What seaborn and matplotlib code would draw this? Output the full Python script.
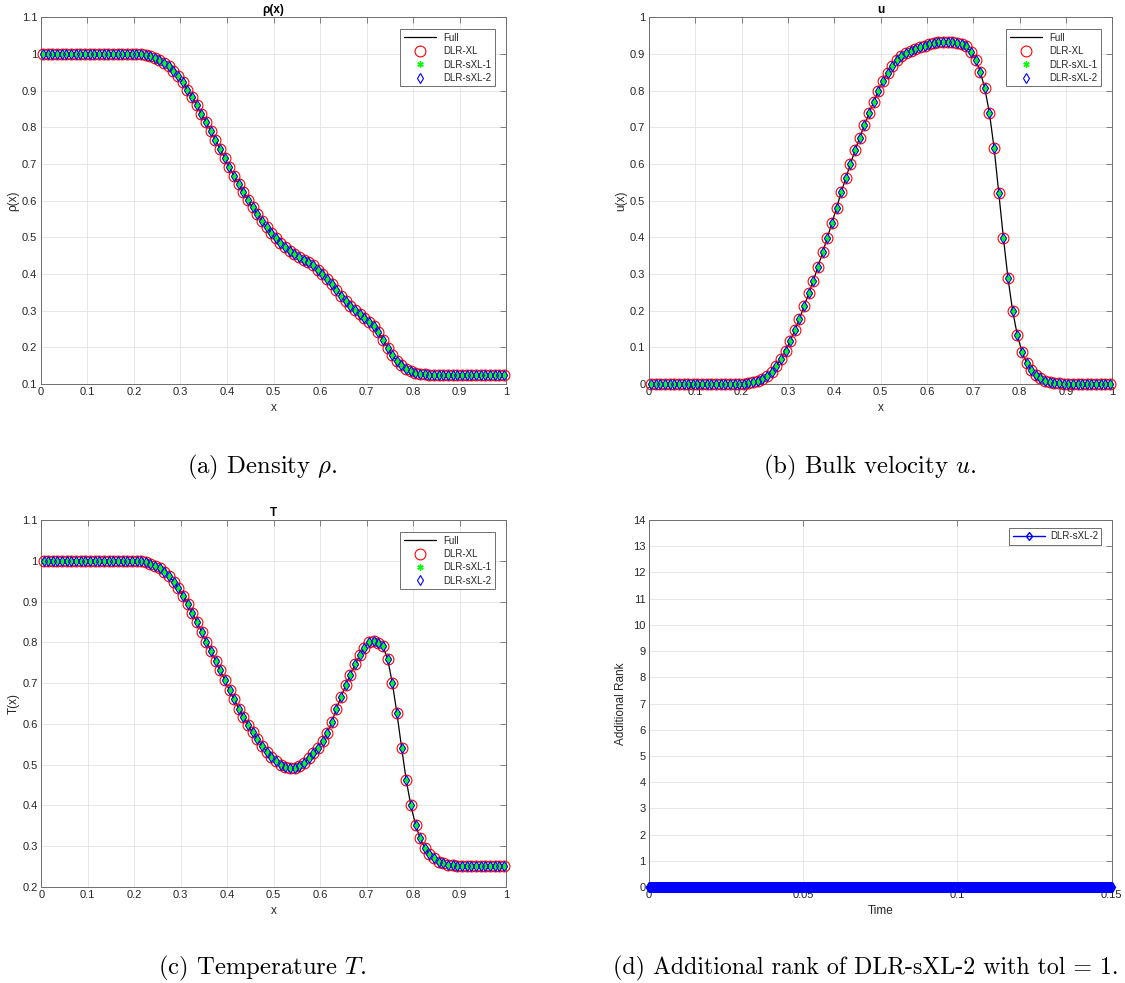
import numpy as np
import pandas as pd
import matplotlib
matplotlib.use("Agg")
import matplotlib.pyplot as plt
import seaborn as sns
from matplotlib.ticker import FuncFormatter, MultipleLocator

# ---------------- data ----------------
x_centers = np.linspace(0.005, 0.995, 100)

rho = [1.0] * 22 + [
    0.997, 0.994, 0.990, 0.984, 0.976, 0.966, 0.954, 0.939, 0.923, 0.903,
    0.883, 0.860, 0.837, 0.814, 0.789, 0.766, 0.742, 0.716, 0.692, 0.667,
    0.645, 0.623, 0.601, 0.582, 0.564, 0.545, 0.528, 0.512, 0.497, 0.484,
    0.473, 0.463, 0.454, 0.446, 0.439, 0.432, 0.424, 0.411, 0.399, 0.387,
    0.373, 0.356, 0.341, 0.325, 0.312, 0.301, 0.290, 0.281, 0.270, 0.258,
    0.243, 0.221, 0.199, 0.178, 0.163, 0.151, 0.141, 0.135, 0.130, 0.127,
    0.126] + [0.125] * 17

u_vel = [0.0] * 21 + [
    0.003, 0.005, 0.008, 0.014, 0.023, 0.034, 0.049, 0.067, 0.091, 0.117,
    0.146, 0.177, 0.212, 0.247, 0.282, 0.320, 0.359, 0.398, 0.439, 0.480,
    0.523, 0.561, 0.600, 0.637, 0.672, 0.705, 0.738, 0.769, 0.800, 0.826,
    0.848, 0.868, 0.883, 0.894, 0.903, 0.908, 0.914, 0.918, 0.923, 0.926,
    0.930, 0.933, 0.934, 0.934, 0.933, 0.930, 0.926, 0.921, 0.906, 0.884,
    0.852, 0.806, 0.738, 0.643, 0.522, 0.399, 0.288, 0.199, 0.134, 0.088,
    0.058, 0.038, 0.025, 0.015, 0.009, 0.005, 0.003, 0.002, 0.001] + [0.0] * 10

temp = [1.0] * 22 + [
    0.997, 0.993, 0.988, 0.982, 0.973, 0.962, 0.949, 0.933, 0.914, 0.893,
    0.872, 0.849, 0.826, 0.802, 0.778, 0.755, 0.731, 0.707, 0.682, 0.660,
    0.637, 0.618, 0.597, 0.579, 0.562, 0.547, 0.532, 0.520, 0.509, 0.500,
    0.494, 0.491, 0.492, 0.497, 0.505, 0.516, 0.528, 0.542, 0.558, 0.577,
    0.605, 0.637, 0.667, 0.696, 0.721, 0.746, 0.768, 0.786, 0.800, 0.804,
    0.799, 0.790, 0.759, 0.701, 0.626, 0.542, 0.462, 0.400, 0.353, 0.319,
    0.296, 0.281, 0.270, 0.262, 0.258, 0.255, 0.253] + [0.252] * 11

time_steps = np.linspace(0.0, 0.15, 1501)
add_rank = [0] * 1501

series_names = ["Full", "DLR-XL", "DLR-sXL-1", "DLR-sXL-2"]
captions = [r"(a) Density $\rho$.", r"(b) Bulk velocity $u$.",
            r"(c) Temperature $T$.", r"(d) Additional rank of DLR-sXL-2 with tol = 1."]

# ---------------- style ----------------
sns.set_theme(style="white")
plt.rcParams["font.family"] = ["Liberation Sans", "DejaVu Sans"]
plt.rcParams["mathtext.fontset"] = "cm"

W, H = 1125, 983
fig = plt.figure(figsize=(W / 100, H / 100), dpi=100)
fig.patch.set_facecolor("white")


def rect(l, r, t, b):
    return [l / W, 1 - b / H, (r - l) / W, (b - t) / H]


fmt = FuncFormatter(lambda v, _: f"{v:g}")
AXC = "#262626"


def style_axes(ax):
    ax.set_facecolor("white")
    ax.grid(True, color="#e3e3e3", lw=0.6)
    ax.set_axisbelow(True)
    for s in ax.spines.values():
        s.set_visible(True)
        s.set_color("#6e6e6e")
        s.set_linewidth(0.7)
    ax.tick_params(direction="in", top=True, right=True, length=4, width=0.6,
                   color="#6e6e6e", labelcolor=AXC, labelsize=8, pad=2.5)
    ax.xaxis.set_major_formatter(fmt)
    ax.yaxis.set_major_formatter(fmt)


def field_panel(ax, vals, title, ylabel, ylim):
    df = pd.DataFrame({"x": x_centers, "v": vals})
    sns.lineplot(data=df, x="x", y="v", ax=ax, color="black", lw=0.9,
                 label=series_names[0], zorder=2)
    sns.lineplot(data=df, x="x", y="v", ax=ax, color="red", marker="o",
                 linestyle="", mfc="none", mec="red", ms=7.8, mew=0.8,
                 label=series_names[1], zorder=3, clip_on=False)
    sns.lineplot(data=df, x="x", y="v", ax=ax, color="#00ff00", marker=(6, 2, 0),
                 linestyle="", mec="#00ff00", ms=4.5, mew=1.0,
                 label=series_names[2], zorder=4, clip_on=False)
    sns.lineplot(data=df, x="x", y="v", ax=ax, color="blue", marker="d",
                 linestyle="", mfc="none", mec="blue", ms=5.5, mew=0.8,
                 label=series_names[3], zorder=5, clip_on=False)
    ax.set_xlim(0, 1)
    ax.set_ylim(*ylim)
    ax.xaxis.set_major_locator(MultipleLocator(0.1))
    ax.yaxis.set_major_locator(MultipleLocator(0.1))
    style_axes(ax)
    ax.set_title(title, fontsize=8.5, fontweight="bold", color="black", pad=3)
    ax.set_xlabel("x", fontsize=8.5, color=AXC, labelpad=3)
    ax.set_ylabel(ylabel, fontsize=8.5, color=AXC, labelpad=2)
    h, l = ax.get_legend_handles_labels()
    leg = ax.legend(h, l, loc="upper right", bbox_to_anchor=(0.976, 0.967),
                    borderaxespad=0, fontsize=7, frameon=True, fancybox=False,
                    framealpha=1, edgecolor="#6e6e6e", handlelength=3.3,
                    labelspacing=0.35, borderpad=0.35, handletextpad=0.8)
    leg.get_frame().set_linewidth(0.7)


ax_a = fig.add_axes(rect(40.8, 506.2, 17.3, 384))
field_panel(ax_a, rho, "ρ(x)", "ρ(x)", (0.1, 1.1))

ax_b = fig.add_axes(rect(648.8, 1112.3, 17.3, 384))
field_panel(ax_b, u_vel, "u", "u(x)", (0, 1))

ax_c = fig.add_axes(rect(41.2, 506.2, 520, 887))
field_panel(ax_c, temp, "T", "T(x)", (0.2, 1.1))

ax_d = fig.add_axes(rect(649, 1111.7, 520, 887))
dfd = pd.DataFrame({"t": time_steps, "r": add_rank})
sns.lineplot(data=dfd, x="t", y="r", ax=ax_d, color="blue", lw=1.0, marker="d",
             mfc="none", mec="blue", ms=5.5, mew=1.0, label="DLR-sXL-2",
             clip_on=False, zorder=5)
ax_d.set_xlim(0, 0.15)
ax_d.set_ylim(0, 14)
ax_d.set_xticks([0, 0.05, 0.1, 0.15])
ax_d.yaxis.set_major_locator(MultipleLocator(1))
style_axes(ax_d)
ax_d.set_xlabel("Time", fontsize=8.5, color=AXC, labelpad=3)
ax_d.set_ylabel("Additional Rank", fontsize=8.5, color=AXC, labelpad=4)
hd, ld = ax_d.get_legend_handles_labels()
legd = ax_d.legend(hd, ld, loc="upper right", bbox_to_anchor=(0.9775, 0.9782),
                   borderaxespad=0, fontsize=7, frameon=True, fancybox=False,
                   framealpha=1, edgecolor="#6e6e6e", handlelength=3.3,
                   borderpad=0.35, handletextpad=0.5, markerscale=0.8)
legd.get_frame().set_linewidth(0.7)

# ---------------- captions ----------------
cap_kw = dict(family="cmr10", color="black", va="center")
fig.text(262 / W, 1 - 467 / H, captions[0], ha="center", fontsize=17.8, **cap_kw)
fig.text(870 / W, 1 - 467 / H, captions[1], ha="center", fontsize=17.8, **cap_kw)
fig.text(262 / W, 1 - 968 / H, captions[2], ha="center", fontsize=17.8, **cap_kw)
fig.text(613 / W, 1 - 968 / H, captions[3], ha="left", fontsize=17.2, **cap_kw)

fig.savefig("out.png", dpi=100, facecolor="white")
